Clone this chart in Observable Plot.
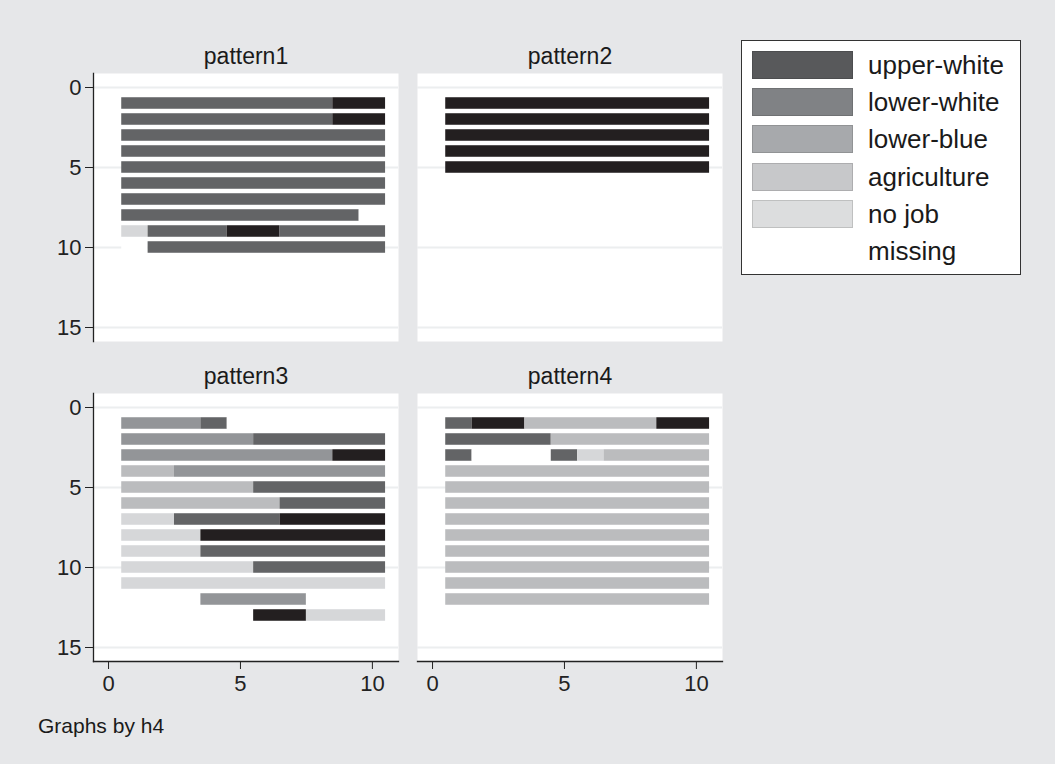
<!DOCTYPE html>
<html>
<head>
<meta charset="utf-8">
<script src="https://cdn.jsdelivr.net/npm/d3@7"></script>
<script src="https://cdn.jsdelivr.net/npm/@observablehq/plot@0.6"></script>
<style>
  body { margin: 0; background: #e6e7e9; font-family: "Liberation Sans", Arial, sans-serif; }
  #wrap { position: relative; width: 1055px; height: 764px; background: #e6e7e9; overflow: hidden; }
  #chart { position: absolute; left: 0; top: 0; }
  #legend { position: absolute; left: 741px; top: 40px; width: 278px; height: 233px; background: #fff; border: 1px solid #333; }
  .sw { position: absolute; left: 10px; width: 99px; height: 26px; }
  .lab { position: absolute; left: 126px; font-size: 26px; line-height: 27px; color: #1a1a1a; white-space: nowrap; }
  #caption { position: absolute; left: 38px; top: 716px; font-size: 21px; line-height: 20px; color: #1a1a1a; }
</style>
</head>
<body>
<div id="wrap">
  <div id="chart"></div>
  <div id="legend"></div>
  <div id="caption">Graphs by h4</div>
</div>
<script>
// States (legend order), their one-letter codes, bar colours and legend swatch colours
const states = ["upper-white", "lower-white", "lower-blue", "agriculture", "no job", "missing"];
const codes = ["U", "L", "B", "A", "N", "."];
const barColors = ["#231f20", "#636466", "#939598", "#bbbcbe", "#d6d7d9", "#ffffff"];
const legendColors = ["#58595b", "#808285", "#a7a9ac", "#c7c8ca", "#dcddde", null];

// Panel titles
const panelTitles = ["pattern1", "pattern2", "pattern3", "pattern4"];

// Sequences: one string per sequence, one letter per position 1..10
const pattern1 = [
  "LLLLLLLLUU",
  "LLLLLLLLUU",
  "LLLLLLLLLL",
  "LLLLLLLLLL",
  "LLLLLLLLLL",
  "LLLLLLLLLL",
  "LLLLLLLLLL",
  "LLLLLLLLL.",
  "NLLLUULLLL",
  ".LLLLLLLLL"
];
const pattern2 = [
  "UUUUUUUUUU",
  "UUUUUUUUUU",
  "UUUUUUUUUU",
  "UUUUUUUUUU",
  "UUUUUUUUUU"
];
const pattern3 = [
  "BBBL......",
  "BBBBBLLLLL",
  "BBBBBBBBUU",
  "AABBBBBBBB",
  "AAAAALLLLL",
  "AAAAAALLLL",
  "NNLLLLUUUU",
  "NNNUUUUUUU",
  "NNNLLLLLLL",
  "NNNNNLLLLL",
  "NNNNNNNNNN",
  "...BBBB...",
  ".....UUNNN"
];
const pattern4 = [
  "LUUAAAAAUU",
  "LLLLAAAAAA",
  "L...LNAAAA",
  "AAAAAAAAAA",
  "AAAAAAAAAA",
  "AAAAAAAAAA",
  "AAAAAAAAAA",
  "AAAAAAAAAA",
  "AAAAAAAAAA",
  "AAAAAAAAAA",
  "AAAAAAAAAA",
  "AAAAAAAAAA"
];

// Axis ticks
const xTicks = [0, 5, 10];
const yTicks = [0, 5, 10, 15];

// Build run-length segments
const patterns = [pattern1, pattern2, pattern3, pattern4];
const segs = [];
patterns.forEach((rows, p) => {
  rows.forEach((seq, r) => {
    let start = 0;
    for (let i = 1; i <= seq.length; i++) {
      if (i === seq.length || seq[i] !== seq[start]) {
        segs.push({
          col: "c" + (p % 2), row: "r" + Math.floor(p / 2),
          seq: r + 1, first: start + 1, last: i,
          state: states[codes.indexOf(seq[start])]
        });
        start = i;
      }
    }
  });
});
const titles = panelTitles.map((name, p) => ({name, col: "c" + (p % 2), row: "r" + Math.floor(p / 2)}));

const chart = Plot.plot({
  width: 1055,
  height: 764,
  marginLeft: 93,
  marginRight: 332,
  marginTop: 73,
  marginBottom: 103,
  style: {background: "transparent", fontFamily: "'Liberation Sans', Arial, sans-serif", color: "#222"},
  fx: {domain: ["c0", "c1"], paddingInner: 0.0585, paddingOuter: 0, axis: null},
  fy: {domain: ["r0", "r1"], paddingInner: 0.1625, paddingOuter: 0, axis: null},
  x: {domain: [-0.57, 10.99]},
  y: {domain: [-0.875, 15.875], reverse: true},
  color: {domain: states, range: barColors},
  marks: [
    Plot.frame({fill: "white", stroke: "none"}),
    Plot.gridY(yTicks, {stroke: "#eceeef", strokeOpacity: 1, strokeWidth: 2}),
    Plot.rect(segs, {
      fx: "col", fy: "row",
      x1: d => d.first - 0.5, x2: d => d.last + 0.5,
      y1: d => d.seq - 0.36, y2: d => d.seq + 0.36,
      fill: "state"
    }),
    Plot.frame({anchor: "left", facetAnchor: "left", stroke: "#222", strokeWidth: 1.3}),
    Plot.frame({anchor: "bottom", facetAnchor: "bottom", stroke: "#222", strokeWidth: 1.3}),
    Plot.axisY(yTicks, {tickSize: 8, tickPadding: 4, fontSize: 22, label: null}),
    Plot.axisX(xTicks, {tickSize: 8, tickPadding: 6, fontSize: 22, label: null}),
    Plot.text(titles, {fx: "col", fy: "row", text: "name", frameAnchor: "top", lineAnchor: "middle", dy: -17, fontSize: 23, fill: "#1a1a1a"})
  ]
});
document.getElementById("chart").appendChild(chart);

// Legend
const legend = document.getElementById("legend");
states.forEach((s, i) => {
  const top = 10 + i * 37.2;
  if (legendColors[i]) {
    const sw = document.createElement("div");
    sw.className = "sw";
    sw.style.top = top + "px";
    sw.style.background = legendColors[i];
    sw.style.border = "1px solid " + d3.color(legendColors[i]).darker(0.4).formatHex();
    legend.appendChild(sw);
  }
  const lab = document.createElement("div");
  lab.className = "lab";
  lab.style.top = (top + 1) + "px";
  lab.textContent = s;
  legend.appendChild(lab);
});
</script>
</body>
</html>
